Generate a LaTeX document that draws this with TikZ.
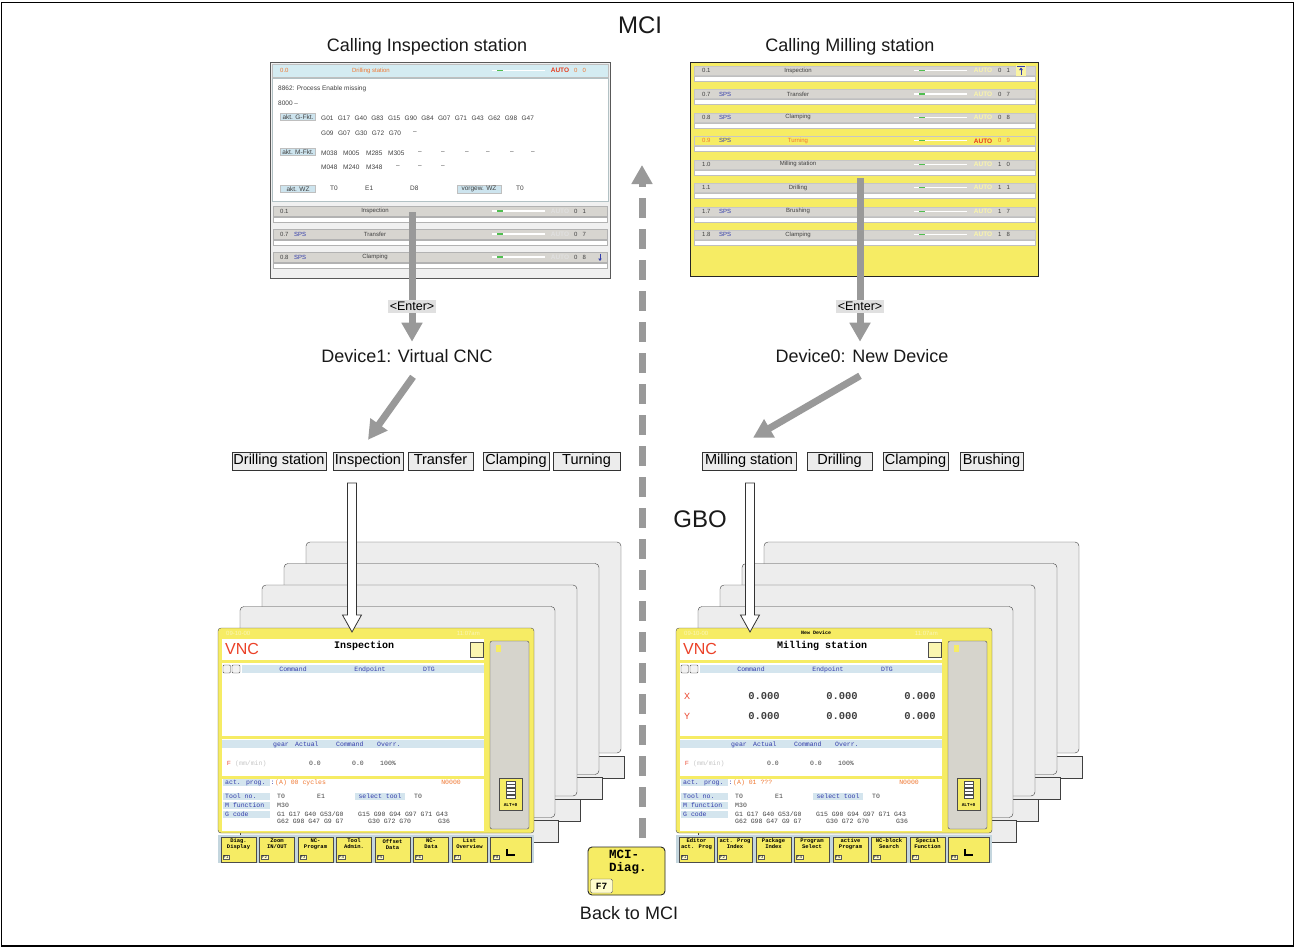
\documentclass[tikz,border=0pt]{standalone}
\usepackage{fontspec}
\setmainfont{Liberation Sans}
\newfontfamily\scrmono{Liberation Mono}
\usetikzlibrary{arrows.meta,calc,positioning}

\definecolor{scryellow}{RGB}{246,236,100}
\definecolor{arrgray}{RGB}{153,153,153}
\definecolor{boxgray}{RGB}{236,236,236}
\definecolor{entergray}{RGB}{224,224,224}
\definecolor{panelgray}{RGB}{237,237,237}
\definecolor{rowgray}{RGB}{215,213,208}
\definecolor{titlecyan}{RGB}{212,236,242}
\definecolor{btncyan}{RGB}{205,228,238}
\definecolor{hdrblue}{RGB}{212,229,238}
\definecolor{keybar}{RGB}{196,214,222}
\definecolor{sidegray}{RGB}{214,212,204}
\definecolor{scrblue}{RGB}{50,60,170}
\definecolor{scrorange}{RGB}{240,120,50}
\definecolor{scrred}{RGB}{230,60,30}
\definecolor{vncred}{RGB}{235,65,40}
\definecolor{scrgreen}{RGB}{80,190,80}

% back sheets of a GBO stack
\newcommand{\gbostack}{%
  \foreach \k in {4,3,2,1} {
    \draw[panel] ({22*\k},{-21.5*\k}) rectangle ++(315,211);
    \draw[panelfoot] ({22*\k},{214-21.5*\k}) rectangle ++(318,22);
  }%
}

% front sheet: VNC screen (#1 title, #2 program, #3 softkeys)
\newcommand{\vncscreen}[3]{%
  \draw[draw=gray!60!black, fill=scryellow, rounded corners=3pt] (0,0) rectangle (316,205);
  \node[rowtxt, text=white!55!scryellow, anchor=west] at (8,5) {09-10-00};
  \node[rowtxt, text=white!55!scryellow, anchor=east] at (262,5) {11:07am};
  % title field
  \fill[white] (4,11) rectangle (266,32);
  \node[vnclogo, anchor=west] at (7,21) {VNC};
  \node[font=\scrmono\bfseries\fontsize{10}{10}\selectfont, inner sep=0pt] at (146,18) {#1};
  \draw[draw=gray!60!black, fill=scryellow!50!white] (252,14) rectangle (265,29);
  % position field
  \fill[white] (4,35) rectangle (266,108);
  \fill[hdrblue] (24,37) rectangle (266,45);
  \draw[draw=gray!60!black, fill=gray!10, rounded corners=1pt] (5,37) rectangle (12.5,45);
  \draw[draw=gray!60!black, fill=gray!10, rounded corners=1pt] (14,37) rectangle (22,45);
  \node[monotxt, anchor=base] at (75,43) {Command};
  \node[monotxt, anchor=base] at (152,43) {Endpoint};
  \node[monotxt, anchor=base] at (211,43) {DTG};
  % feed field
  \fill[white] (4,111) rectangle (266,148);
  \fill[hdrblue] (4,112) rectangle (266,120);
  \node[monotxt, anchor=base west] at (55,118) {gear};
  \node[monotxt, anchor=base west] at (77,118) {Actual};
  \node[monotxt, anchor=base west] at (118,118) {Command};
  \node[monotxt, anchor=base west] at (159,118) {Overr.};
  \node[rowtxt, text=vncred, anchor=base west] at (9,137) {F};
  \node[monotxt, text=gray!45, anchor=base west] at (17,137) {(mm/min)};
  \node[monotxt, text=black!75, anchor=base] at (97,137) {0.0};
  \node[monotxt, text=black!75, anchor=base] at (140,137) {0.0};
  \node[monotxt, text=black!75, anchor=base] at (170,137) {100\%};
  % program field
  \fill[white] (4,151) rectangle (266,203);
  \foreach \yy/\fld in {151/act. prog. :,165/Tool no.,174/M function,183/G code} {
    \fill[hdrblue] (5,\yy) rectangle (52,{\yy+7});
    \node[monotxt, anchor=base west] at (7,{\yy+5.5}) {\fld};
  }
  \node[monotxt, text=scrorange, anchor=base west] at (57,156.5) {#2};
  \node[monotxt, text=scrorange, anchor=base east] at (243,156.5) {N0000};
  \node[monotxt, text=black!75, anchor=base west] at (59,170.5) {T0};
  \node[monotxt, text=black!75, anchor=base west] at (99,170.5) {E1};
  \fill[hdrblue] (137,165) rectangle (187,172);
  \node[monotxt, anchor=base] at (162,170.5) {select tool};
  \node[monotxt, text=black!75, anchor=base west] at (196,170.5) {T0};
  \node[monotxt, text=black!75, anchor=base west] at (59,179.5) {M30};
  \node[monotxt, text=black!75, anchor=base west] at (59,188.5) {G1 G17 G40 G53/G0};
  \node[monotxt, text=black!75, anchor=base west] at (140,188.5) {G15 G90 G94 G97 G71 G43};
  \node[monotxt, text=black!75, anchor=base west] at (59,195.5) {G62 G98 G47 G9 G7};
  \node[monotxt, text=black!75, anchor=base west] at (150,195.5) {G30 G72 G70};
  \node[monotxt, text=black!75, anchor=base west] at (220,195.5) {G36};
  % side bar
  \draw[draw=gray!60!black, fill=sidegray, rounded corners=2pt] (272,13) rectangle (311,201);
  \fill[scryellow] (278,17) rectangle (283,24);
  \draw[draw=gray!60!black, fill=scryellow] (281,150) rectangle (304,182);
  \foreach \k in {0,...,4}
    \draw[draw=gray!60!black, fill=white] (288,{153+3.5*\k}) rectangle (297,{156+3.5*\k});
  \node[font=\scrmono\bfseries\fontsize{4.5}{4.5}\selectfont, inner sep=0pt] at (292.5,177.5) {ALT+0};
  % softkeys
  \fill[keybar] (0,207) rectangle (316,235);
  \foreach \lab [count=\nk] in {#3} {
    \draw[draw=gray!60!black, fill=scryellow] ({3+38.5*(\nk-1)},209) rectangle ({38+38.5*(\nk-1)},234);
    \node[keytxt] at ({20.5+38.5*(\nk-1)},216) {\lab};
    \node[fkey] at ({8+38.5*(\nk-1)},229) {F\nk};
  }
  \draw[draw=gray!60!black, fill=scryellow] (272,209) rectangle (313,234);
  \node[fkey] at (278,229) {F8};
  \draw[line width=1.2pt] (289,221) -- (289,227) -- (297,227);
}

% hollow arrow from a station list down to its GBO
\newcommand{\whitearrow}[2]{%
  \draw[draw=black!80, fill=white, line width=0.8pt] let \p1=(#1), \p2=(#2) in
    (\x1-4.5pt,\y1) -- (\x1+4.5pt,\y1) -- (\x1+4.5pt,\y2+17pt) -- (\x1+9.5pt,\y2+17pt)
    -- (\x1,\y2) -- (\x1-9.5pt,\y2+17pt) -- (\x1-4.5pt,\y2+17pt) -- cycle;}

\begin{document}
\begin{tikzpicture}[
    x=1pt, y=-1pt,
    >={Triangle[length=19pt,width=20pt]},
    lbl/.style={font=\fontsize{18}{20}\selectfont, text=black!90, inner sep=2pt},
    big/.style={font=\fontsize{24}{26}\selectfont, text=black!90, inner sep=2pt},
    stationbox/.style={draw=black!80, fill=boxgray, font=\fontsize{14.5}{16}\selectfont,
        inner sep=0pt, minimum height=18pt, text height=10.6pt, text depth=3pt},
    enterbox/.style={fill=entergray, inner sep=2pt, font=\fontsize{12.5}{13}\selectfont},
    grayarrow/.style={draw=arrgray, line width=7pt, ->},
    dasharrow/.style={grayarrow, dash pattern=on 20pt off 11pt},
    panel/.style={draw=black!75, fill=panelgray, rounded corners=4pt},
    panelfoot/.style={draw=black!75, fill=panelgray},
    scrtxt/.style={font=\fontsize{6.5}{7}\selectfont, inner sep=0pt, text=black!75},
    rowtxt/.style={font=\fontsize{6}{6}\selectfont, inner sep=0pt, text=black!75},
    autotxt/.style={font=\bfseries\fontsize{6.5}{6.5}\selectfont, inner sep=0pt},
    btn/.style={scrtxt, draw=gray!50, fill=btncyan, inner sep=1.3pt, minimum width=35pt},
    monotxt/.style={font=\scrmono\fontsize{6.5}{6.5}\selectfont, inner sep=0pt, text=scrblue},
    keytxt/.style={font=\scrmono\bfseries\fontsize{5.5}{6}\selectfont, align=center, inner sep=0pt},
    fkey/.style={draw=gray!70!black, fill=white!80!yellow, font=\scrmono\fontsize{4}{4}\selectfont, inner sep=0.8pt},
    vnclogo/.style={font=\fontsize{16}{16}\selectfont, text=vncred, inner sep=0pt},
    bigdigit/.style={font=\scrmono\bfseries\fontsize{10.5}{10.5}\selectfont, text=black!75, inner sep=0pt}
]

\useasboundingbox (0,0) rectangle (1295,948);

% Frame
\draw[line width=1.6pt] (1.5,2.5) rectangle (1293.5,946);

% Titles
\node[big] (mci) at (640,25) {MCI};
\node[lbl] (callinsp) at (427,47) {Calling Inspection station};
\node[lbl] (callmill) at (850,47) {Calling Milling station};

% ===== MCI screen, Inspection station =====
\draw[draw=gray!70!black, fill=gray!12] (270,62) rectangle (610,278);
\draw[draw=gray!50, fill=titlecyan] (272,64) rectangle (608,77);
\node[rowtxt, text=scrorange, anchor=west] at (280,70.5) {0.0};
\node[rowtxt, text=scrorange] at (371,70.5) {Drilling station};
\draw[white, line width=1.2pt] (492,70.5) -- (545,70.5);
\draw[scrgreen, line width=1.2pt] (497,70.5) -- (503,70.5);
\node[autotxt, text=scrred] at (560,70.5) {AUTO};
\node[rowtxt, text=scrorange] at (580,70.5) {0\hspace{5pt}0};
\draw[draw=titlecyan!60!gray, fill=white] (272,78) rectangle (608,201);
\node[scrtxt, anchor=west] at (278,89) {8862: Process Enable missing};
\node[scrtxt, anchor=west] at (278,103) {8000 –};
\node[btn] (gfkt) at (298,117) {akt. G-Fkt.};
\foreach \g [count=\i from 0] in {G01,G17,G40,G83,G15,G90,G84,G07,G71,G43,G62,G98,G47}
    \node[scrtxt, anchor=west] at ({321+16.7*\i},118) {\g};
\foreach \g [count=\i from 0] in {G09,G07,G30,G72,G70}
    \node[scrtxt, anchor=west] at ({321+16.9*\i},133) {\g};
\node[scrtxt, anchor=west] at (413,133) {–};
\node[btn] (mfkt) at (298,152) {akt. M-Fkt.};
\foreach \m/\xx in {M038/321,M005/343,M285/366,M305/388,–/418,–/441,–/465,–/486,–/510,–/531}
    \node[scrtxt, anchor=west] at (\xx,153) {\m};
\foreach \m/\xx in {M048/321,M240/343,M348/366,–/396,–/418,–/441}
    \node[scrtxt, anchor=west] at (\xx,167) {\m};
\node[btn] (aktwz) at (298,189) {akt. WZ};
\node[scrtxt, anchor=west] at (330,188) {T0};
\node[scrtxt, anchor=west] at (365,188) {E1};
\node[scrtxt, anchor=west] at (410,188) {D8};
\node[btn, minimum width=44pt] (vorgwz) at (479,189) {vorgew. WZ};
\node[scrtxt, anchor=west] at (516,188) {T0};
\foreach \yy/\num/\sps/\name/\dig in {206/0.1/{}/Inspection/0\hspace{5pt}1,
        229/0.7/SPS/Transfer/0\hspace{5pt}7, 252/0.8/SPS/Clamping/0\hspace{5pt}8} {
    \draw[draw=gray!60, fill=rowgray] (273,\yy) rectangle (607,{\yy+10});
    \draw[draw=gray!60, fill=white] (273,{\yy+11}) rectangle (607,{\yy+16});
    \node[rowtxt, anchor=west] at (280,{\yy+5}) {\num};
    \node[rowtxt, text=scrblue, anchor=west] at (294,{\yy+5}) {\sps};
    \node[rowtxt] at (375,{\yy+5}) {\name};
    \draw[white, line width=1.2pt] (492,{\yy+5}) -- (545,{\yy+5});
    \draw[scrgreen, line width=1.2pt] (497,{\yy+5}) -- (503,{\yy+5});
    \node[autotxt, text=white!88!black] at (560,{\yy+5}) {AUTO};
    \node[rowtxt] at (580,{\yy+5}) {\dig};
}
\draw[scrblue, line width=0.8pt, -{Triangle[length=2.5pt,width=3.5pt]}] (600,253.5) -- (600,261);

% ===== MCI screen, Milling station =====
\draw[draw=black!85, fill=scryellow] (690,62) rectangle (1038,276);
\foreach \num/\sps/\name/\dig/\barc/\ink/\autoc [count=\k from 0] in {
        0.1/{}/Inspection/0\hspace{5pt}1/rowgray/black!75/scryellow!55!white,
        0.7/SPS/Transfer/0\hspace{5pt}7/rowgray/black!75/scryellow!55!white,
        0.8/SPS/Clamping/0\hspace{5pt}8/rowgray/black!75/scryellow!55!white,
        0.9/SPS/Turning/0\hspace{5pt}9/scryellow/scrorange/scrred,
        1.0/{}/Milling station/1\hspace{5pt}0/rowgray/black!75/scryellow!55!white,
        1.1/{}/Drilling/1\hspace{5pt}1/rowgray/black!75/scryellow!55!white,
        1.7/SPS/Brushing/1\hspace{5pt}7/rowgray/black!75/scryellow!55!white,
        1.8/SPS/Clamping/1\hspace{5pt}8/rowgray/black!75/scryellow!55!white} {
    \pgfmathsetmacro\yy{66+23.45*\k}
    \draw[draw=gray!45, fill=\barc] (694,\yy) rectangle (1035,{\yy+9});
    \draw[draw=gray!50, fill=white] (694,{\yy+10}) rectangle (1035,{\yy+15});
    \node[rowtxt, text=\ink, anchor=west] at (702,{\yy+4.5}) {\num};
    \node[rowtxt, text=scrblue, anchor=west] at (719,{\yy+4.5}) {\sps};
    \node[rowtxt, text=\ink] at (798,{\yy+4.5}) {\name};
    \draw[white, line width=1.2pt] (914,{\yy+4.5}) -- (967,{\yy+4.5});
    \draw[scrgreen, line width=1.2pt] (919,{\yy+4.5}) -- (925,{\yy+4.5});
    \node[autotxt, text=\autoc] at (983,{\yy+4.5}) {AUTO};
    \node[rowtxt, text=\ink] at (1004,{\yy+4.5}) {\dig};
}
\fill[scryellow!60!white] (1016,64.5) rectangle (1026,76);
\draw[scrblue, line width=0.6pt] (1017,66) -- (1025,66);
\draw[scrblue, line width=0.8pt, -{Triangle[length=2.5pt,width=3.5pt]}] (1021,75) -- (1021,67.5);

% ===== Enter: MCI -> device =====
\coordinate (enterL) at (412,212);
\coordinate (enterR) at (860,178);
\node[lbl] (dev1) at (407,356) {Device1: Virtual CNC};
\node[lbl] (dev0) at (862,356) {Device0: New Device};

\draw[grayarrow, shorten >=5.5pt] (enterL) -- (enterL |- dev1.north)
    node[enterbox, pos=0.70] (enter1) {<Enter>};
\draw[grayarrow, shorten >=5.5pt] (enterR) -- (enterR |- dev0.north)
    node[enterbox, pos=0.76] (enter0) {<Enter>};

% Station lists
\node[stationbox, minimum width=94pt] (drill) at (279,461) {Drilling station};
\node[stationbox, minimum width=70pt] (insp) at (368,461) {Inspection};
\node[stationbox, minimum width=65pt] (transfer) at (440.5,461) {Transfer};
\node[stationbox, minimum width=66pt] (clamp) at (516,461) {Clamping};
\node[stationbox, minimum width=67pt] (turn) at (586.5,461) {Turning};

\node[stationbox, minimum width=94pt] (mill) at (749,461) {Milling station};
\node[stationbox, minimum width=65pt] (drillb) at (839.5,461) {Drilling};
\node[stationbox, minimum width=65pt] (clampb) at (915.5,461) {Clamping};
\node[stationbox, minimum width=63pt] (brush) at (991.5,461) {Brushing};

% device -> station
\draw[grayarrow] ([shift={(6pt,-12pt)}]dev1.south) -- ([yshift=12pt]insp.north);
\draw[grayarrow] ([shift={(-2pt,-11pt)}]dev0.south) -- ([shift={(4pt,14pt)}]mill.north);

% ===== Back to MCI =====
\node[draw=black!85, fill=scryellow, rounded corners=4pt, line width=0.9pt,
    minimum width=77pt, minimum height=48pt] (mcidiag) at (626.5,871) {};
\node[font=\scrmono\bfseries\fontsize{12.5}{13}\selectfont, align=left, anchor=north west,
    inner sep=0pt] (diagtxt) at (609,850) {MCI-\\Diag.};
\node[fkey, font=\scrmono\bfseries\fontsize{9.5}{9.5}\selectfont, rounded corners=1.5pt,
    minimum width=22pt, minimum height=14pt] (diagf7) at (601.5,886) {F7};
\node[lbl] (backmci) at (629,913) {Back to MCI};

\coordinate (mcitop) at (642,165);
\draw[dasharrow, shorten <=9pt] (mcidiag.north -| mcitop) -- (mcitop);

\node[big] (gbo) at (700,519) {GBO};

% ===== GBO stacks =====
\begin{scope}[shift={(218,628)}]
\gbostack
\vncscreen{Inspection}{(A) 00 cycles}{{Diag.\\Display},{Zoom\\IN/OUT},{NC-\\Program},{Tool\\Admin.},{Offset\\Data},{NC-\\Data},{List\\Overview}}
\end{scope}

\begin{scope}[shift={(676,628)}]
\gbostack
\vncscreen{Milling station}{(A) 01 ???}{{Editor\\act. Prog},{act. Prog\\Index},{Package\\Index},{Program\\Select},{active\\Program},{NC-block\\Search},{Special\\Function}}
\node[font=\scrmono\bfseries\fontsize{5}{5}\selectfont, inner sep=0pt] at (140,5) {New Device};
\foreach \yy/\ax in {68/X,88/Y} {
    \node[font=\fontsize{9}{9}\selectfont, text=vncred, inner sep=0pt, anchor=west] at (8,\yy) {\ax};
    \foreach \xx in {88,166,244}
        \node[bigdigit] at (\xx,\yy) {0.000};
}
\end{scope}

% list -> GBO
\coordinate (listL) at (352,483);
\coordinate (gboL) at (352,632);
\coordinate (listR) at (750,483);
\coordinate (gboR) at (750,632);
\whitearrow{listL}{gboL}
\whitearrow{listR}{gboR}

\end{tikzpicture}
\end{document}
